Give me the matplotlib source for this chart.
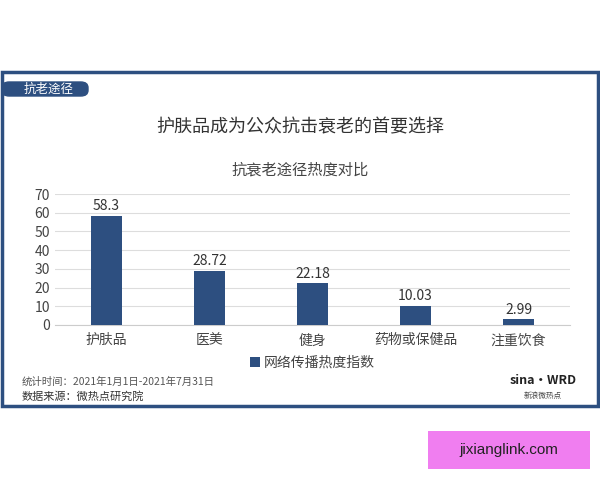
import matplotlib
matplotlib.use("Agg")
import matplotlib.pyplot as plt
from matplotlib.patches import Rectangle, FancyBboxPatch

plt.rcParams['font.family'] = ['Noto Sans CJK SC', 'DejaVu Sans']

categories = ["护肤品", "医美", "健身", "药物或保健品", "注重饮食"]
values = [58.3, 28.72, 22.18, 10.03, 2.99]
labels = ["58.3", "28.72", "22.18", "10.03", "2.99"]
yticks = [0, 10, 20, 30, 40, 50, 60, 70]

navy = "#2d4f80"
fig = plt.figure(figsize=(6, 4.8), dpi=100)
W, H = 600, 480
def fx(x): return x / W
def fy(y): return 1 - y / H

# frame
fig.patches.append(Rectangle((fx(2), fy(406)), fx(596), 334 / H, transform=fig.transFigure,
                             fill=False, edgecolor=navy, linewidth=2.5))
fig.patches.append(FancyBboxPatch((fx(2), fy(96)), fx(86), 14 / H, transform=fig.transFigure,
                                  boxstyle="round,pad=0,rounding_size=0.012", facecolor=navy, edgecolor=navy))
fig.text(fx(24), fy(89), "抗老途径", color="white", fontsize=9, va="center")

fig.text(0.5, fy(127), "护肤品成为公众抗击衰老的首要选择", ha="center", va="center", fontsize=13, color="#333333")
fig.text(0.5, fy(170), "抗衰老途径热度对比", ha="center", va="center", fontsize=11, color="#444444")

ax = fig.add_axes([fx(55), fy(325), fx(515), (325 - 194) / H])
x = range(len(categories))
bars = ax.bar(x, values, width=0.31, color=navy, label="网络传播热度指数", zorder=3)
for xi, v, l in zip(x, values, labels):
    ax.text(xi, v + 1.5, l, ha="center", va="bottom", fontsize=10, color="#333333")
ax.set_ylim(0, 70)
ax.set_yticks(yticks)
ax.set_xlim(-0.5, len(categories) - 0.5)
ax.set_xticks(list(x))
ax.set_xticklabels(categories, fontsize=10, color="#444444")
ax.tick_params(axis='y', labelsize=10, colors="#444444", length=0)
ax.tick_params(axis='x', length=0, pad=6)
ax.grid(axis='y', color="#dddddd", linewidth=0.8, zorder=0)
for s in ["top", "right", "left"]:
    ax.spines[s].set_visible(False)
ax.spines["bottom"].set_color("#cccccc")
ax.legend(loc="upper center", bbox_to_anchor=(0.5, -0.14), frameon=False, fontsize=10,
          handlelength=0.7, handleheight=0.7, handletextpad=0.3, labelcolor="#444444")

fig.text(fx(22), fy(382), "统计时间：2021年1月1日-2021年7月31日", fontsize=7.5, va="center", color="#555555")
fig.text(fx(22), fy(396), "数据来源：微热点研究院", fontsize=8, va="center", color="#333333")
fig.text(fx(543), fy(381), "sina·WRD", fontsize=9, fontweight="bold", fontstyle="italic", ha="center", va="center", color="#222222")
fig.text(fx(543), fy(396), "新浪微热点", fontsize=5.5, ha="center", va="center", color="#444444")

fig.patches.append(Rectangle((fx(428), fy(469)), fx(162), 38 / H, transform=fig.transFigure,
                             facecolor="#f07ef0", edgecolor="none"))
fig.text(fx(509), fy(450), "jixianglink.com", fontsize=11, ha="center", va="center", color="#222222",
         family=["Liberation Sans", "DejaVu Sans"])

fig.savefig("out.png", dpi=100, facecolor="white")
